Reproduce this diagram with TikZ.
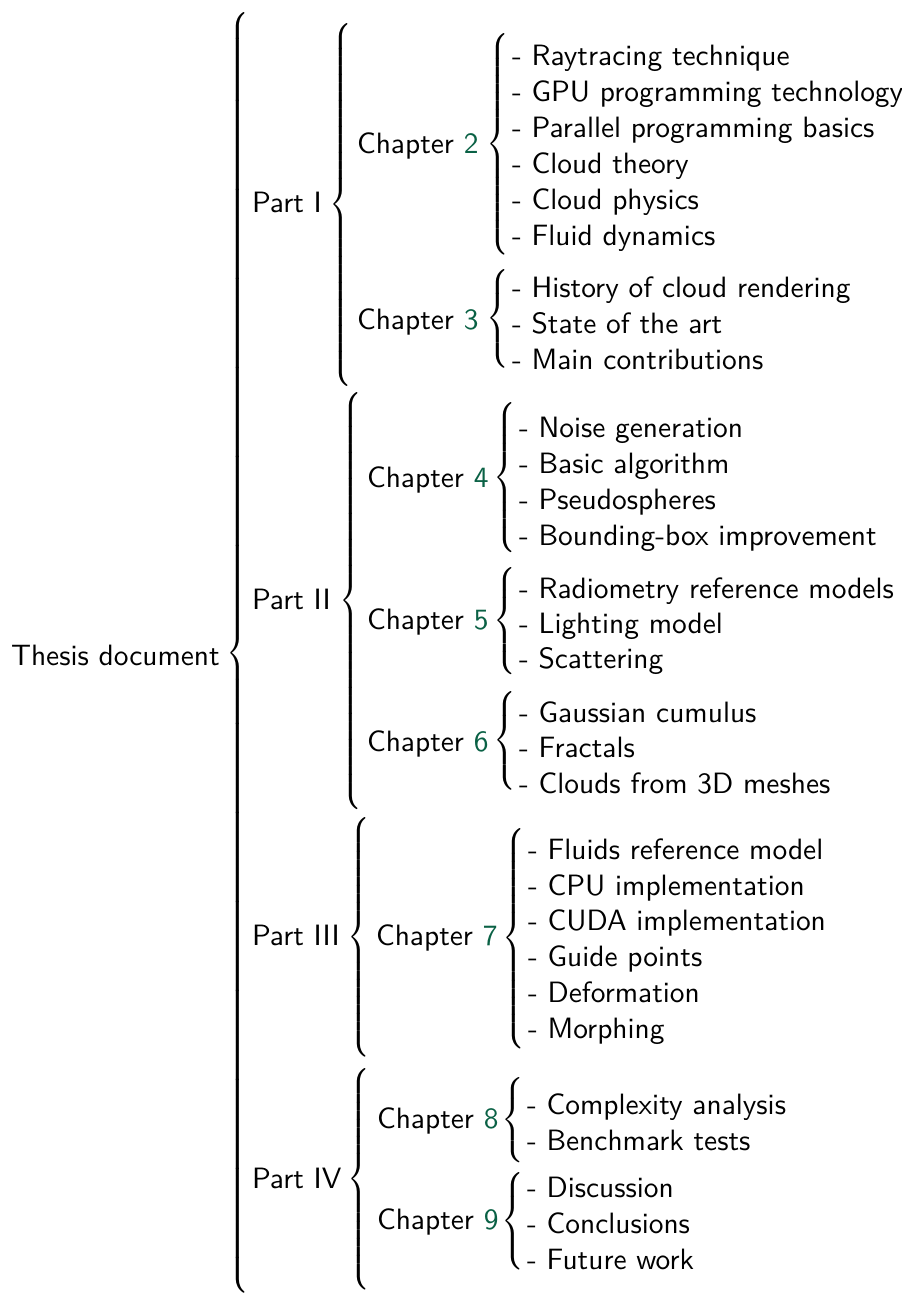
\documentclass[tikz,border=0pt]{standalone}
\usepackage{graphicx}
\usepackage{xcolor}
\definecolor{chnum}{rgb}{0.04,0.38,0.27}
\newlength\unitpx
\setlength\unitpx{0.333333pt}
% extensible TeX brace stretched to an exact total height (in px units)
\newcommand\tallbrace[1]{\resizebox*{0.85\width}{#1\unitpx}{$\left\{\vrule height \dimexpr#1\unitpx/2\relax depth \dimexpr#1\unitpx/2\relax width 0pt\right.$}}
\newcommand\chnum[1]{\textcolor{chnum}{#1}}
\tikzset{
  lbl/.style={anchor=base west, inner sep=0pt, outer sep=0pt, font=\fontsize{9.8pt}{12pt}\sffamily},
  brc/.style={anchor=west, inner sep=0pt, outer sep=0pt},
}
\begin{document}
\begin{tikzpicture}[x=0.333333pt, y=-0.333333pt]
\useasboundingbox (0,0) rectangle (902,1295);

% root
\node[lbl] (root) at (11,665) {Thesis document};
\node[brc] (broot) at (226,653) {\tallbrace{1282}};

% Part I
\node[lbl] (p1) at (252,212) {Part I};
\node[brc] (bp1) at (329,205) {\tallbrace{364}};
\node[lbl] (c2) at (357,153) {Chapter \chnum{2}};
\node[brc] (bc2) at (486,145) {\tallbrace{224}};
\node[lbl] (i21) at (512,65)  {- Raytracing technique};
\node[lbl] (i22) at (512,101) {- GPU programming technology};
\node[lbl] (i23) at (512,137) {- Parallel programming basics};
\node[lbl] (i24) at (512,173) {- Cloud theory};
\node[lbl] (i25) at (512,209) {- Cloud physics};
\node[lbl] (i26) at (512,245) {- Fluid dynamics};
\node[lbl] (c3) at (357,329) {Chapter \chnum{3}};
\node[brc] (bc3) at (486,321) {\tallbrace{104}};
\node[lbl] (i31) at (512,297) {- History of cloud rendering};
\node[lbl] (i32) at (512,333) {- State of the art};
\node[lbl] (i33) at (512,369) {- Main contributions};

% Part II
\node[lbl] (p2) at (252,609) {Part II};
\node[brc] (bp2) at (339,601) {\tallbrace{418}};
\node[lbl] (c4) at (367,487) {Chapter \chnum{4}};
\node[brc] (bc4) at (493,479) {\tallbrace{154}};
\node[lbl] (i41) at (519,437) {- Noise generation};
\node[lbl] (i42) at (519,473) {- Basic algorithm};
\node[lbl] (i43) at (519,509) {- Pseudospheres};
\node[lbl] (i44) at (519,545) {- Bounding-box improvement};
\node[lbl] (c5) at (367,629) {Chapter \chnum{5}};
\node[brc] (bc5) at (493,621) {\tallbrace{108}};
\node[lbl] (i51) at (519,598) {- Radiometry reference models};
\node[lbl] (i52) at (519,633) {- Lighting model};
\node[lbl] (i53) at (519,668) {- Scattering};
\node[lbl] (c6) at (367,751) {Chapter \chnum{6}};
\node[brc] (bc6) at (493,743) {\tallbrace{104}};
\node[lbl] (i61) at (519,722) {- Gaussian cumulus};
\node[lbl] (i62) at (519,757) {- Fractals};
\node[lbl] (i63) at (519,793) {- Clouds from 3D meshes};

% Part III
\node[lbl] (p3) at (252,945) {Part III};
\node[brc] (bp3) at (347,938) {\tallbrace{241}};
\node[lbl] (c7) at (376,945) {Chapter \chnum{7}};
\node[brc] (bc7) at (502,939) {\tallbrace{222}};
\node[lbl] (i71) at (528,859)  {- Fluids reference model};
\node[lbl] (i72) at (528,895)  {- CPU implementation};
\node[lbl] (i73) at (528,930)  {- CUDA implementation};
\node[lbl] (i74) at (528,966)  {- Guide points};
\node[lbl] (i75) at (528,1002) {- Deformation};
\node[lbl] (i76) at (528,1038) {- Morphing};

% Part IV
\node[lbl] (p4) at (252,1188) {Part IV};
\node[brc] (bp4) at (347,1180) {\tallbrace{223}};
\node[lbl] (c8) at (377,1128) {Chapter \chnum{8}};
\node[brc] (bc8) at (501,1120) {\tallbrace{85}};
\node[lbl] (i81) at (527,1114) {- Complexity analysis};
\node[lbl] (i82) at (527,1150) {- Benchmark tests};
\node[lbl] (c9) at (377,1229) {Chapter \chnum{9}};
\node[brc] (bc9) at (501,1223) {\tallbrace{102}};
\node[lbl] (i91) at (527,1197) {- Discussion};
\node[lbl] (i92) at (527,1233) {- Conclusions};
\node[lbl] (i93) at (527,1269) {- Future work};
\end{tikzpicture}
\end{document}
